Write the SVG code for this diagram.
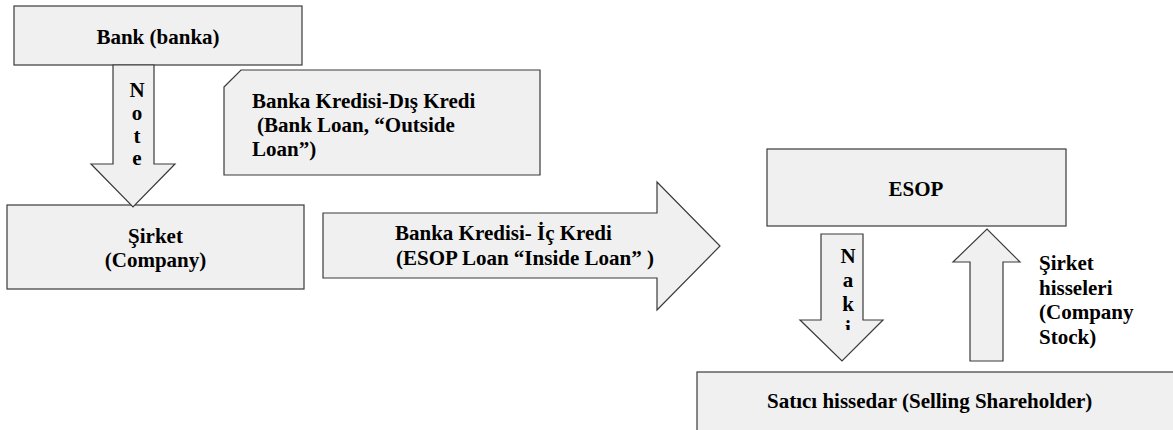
<svg xmlns="http://www.w3.org/2000/svg" width="1173" height="430" viewBox="0 0 1173 430">
<style>
.s{fill:#f0f0f0;stroke:#3a3a3a;stroke-width:1.2}
text{font-family:"Liberation Serif","Times New Roman",serif;font-weight:bold;font-size:21px;fill:#000}
.m{text-anchor:middle}
</style>
<defs>
<clipPath id="nakiClip"><rect x="800" y="234" width="83" height="96"/></clipPath>
</defs>
<rect width="1173" height="430" fill="#fff"/>
<g id="bank">
<rect class="s" x="14" y="6" width="288" height="59"/>
<text class="m" x="158" y="44">Bank (banka)</text>
</g>
<g id="outside-loan">
<path class="s" d="M224,87 L241,70 L540,70 L540,175 L224,175 Z"/>
<text x="252" y="108">Banka Kredisi-Dış Kredi</text>
<text x="257" y="132">(Bank Loan, “Outside</text>
<text x="252" y="156">Loan”)</text>
</g>
<g id="sirket">
<rect class="s" x="7" y="205" width="297" height="84"/>
<text class="m" x="155.5" y="243">Şirket</text>
<text class="m" x="155.5" y="267">(Company)</text>
</g>
<g id="esop">
<rect class="s" x="767" y="149" width="299" height="77"/>
<text class="m" x="916" y="196">ESOP</text>
</g>
<g id="selling-shareholder">
<rect class="s" x="697" y="372" width="490" height="70"/>
<text x="767" y="408">Satıcı hissedar (Selling Shareholder)</text>
</g>
<g id="connectors">
<g id="note-arrow">
<path class="s" d="M113,65 L154,65 L154,164 L175,164 L133,207 L91,164 L113,164 Z"/>
<text class="m" x="137" y="97">N</text>
<text class="m" x="137" y="120">o</text>
<text class="m" x="137" y="143">t</text>
<text class="m" x="137" y="165">e</text>
</g>
<g id="inside-loan-arrow">
<path class="s" d="M323,213 L657,213 L657,182 L720,246 L657,310 L657,278 L323,278 Z"/>
<text x="395" y="240">Banka Kredisi- İç Kredi</text>
<text x="396" y="265">(ESOP Loan “Inside Loan” )</text>
</g>
<g id="naki-arrow">
<path class="s" d="M821,234 L863,234 L863,320 L883,320 L842,361 L800,320 L821,320 Z"/>
<g clip-path="url(#nakiClip)">
<text class="m" x="848" y="263">N</text>
<text class="m" x="848" y="287">a</text>
<text class="m" x="848" y="311">k</text>
<text class="m" x="848" y="335">i</text>
</g>
</g>
<g id="stock-arrow">
<path class="s" d="M970,361 L1003,361 L1003,262 L1020,262 L987,229 L953,262 L970,262 Z"/>
<text x="1039" y="270">Şirket</text>
<text x="1039" y="294.5">hisseleri</text>
<text x="1039" y="319">(Company</text>
<text x="1039" y="343.5">Stock)</text>
</g>
</g>
</svg>
